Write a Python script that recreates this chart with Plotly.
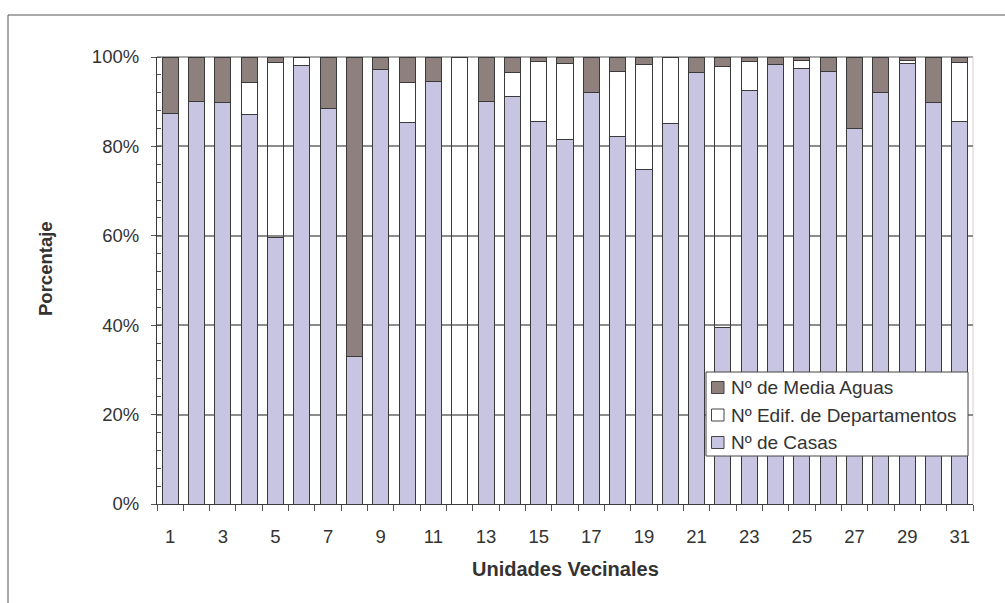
import plotly.graph_objects as go

# Unidades vecinales 1..31 and housing composition (% of each unit)
unidades = [str(i) for i in range(1, 32)]
tick_text = [u if int(u) % 2 == 1 else "" for u in unidades]

casas = [87.4, 90.1, 89.8, 87.1, 59.7, 98.0, 88.5, 32.9, 97.1, 85.4,
         94.5, 0.0, 90.1, 91.2, 85.6, 81.6, 92.0, 82.2, 74.9, 85.1,
         96.6, 39.5, 92.5, 98.3, 97.5, 96.8, 83.9, 92.0, 98.5, 89.8, 85.6]
departamentos = [0.0, 0.0, 0.0, 7.3, 39.0, 2.0, 0.0, 0.0, 0.0, 8.9,
                 0.0, 100.0, 0.0, 5.4, 13.5, 16.9, 0.0, 14.6, 23.4, 14.9,
                 0.0, 58.3, 6.6, 0.0, 1.8, 0.0, 0.0, 0.0, 0.8, 0.0, 13.1]
media_aguas = [12.6, 9.9, 10.2, 5.6, 1.3, 0.0, 11.5, 67.1, 2.9, 5.7,
               5.5, 0.0, 9.9, 3.4, 0.9, 1.5, 8.0, 3.2, 1.7, 0.0,
               3.4, 2.2, 0.9, 1.7, 0.7, 3.2, 16.1, 8.0, 0.7, 10.2, 1.3]

series_names = ["Nº de Casas", "Nº Edif. de Departamentos", "Nº de Media Aguas"]
series_values = [casas, departamentos, media_aguas]
series_fill = ["#C8C5E3", "rgba(255,255,255,0)", "#8E817D"]
legend_fill = ["#C8C5E3", "#FFFFFF", "#8E817D"]

FONT = "Liberation Sans, Arial, sans-serif"
TXT = "#333333"
EDGE = "#3a3a3a"

fig = go.Figure()
for name, vals, col in zip(series_names, series_values, series_fill):
    fig.add_trace(go.Bar(
        x=unidades, y=vals, name=name,
        marker=dict(color=col, line=dict(color=EDGE, width=1)),
        showlegend=False,
    ))

# page geometry (pixels)
W, H = 1005, 603
L, R, T, B = 157, 32, 57, 99
pw, ph = W - L - R, H - T - B


def px(x):
    return (x - L) / pw


def py(y):
    return (H - B - y) / ph


shapes = []
annotations = []

# outer chart frame
shapes.append(dict(type="rect", xref="paper", yref="paper",
                   x0=px(8), y0=py(15), x1=px(1012), y1=py(612),
                   line=dict(color="#555555", width=1), fillcolor="rgba(0,0,0,0)", layer="below"))
# top edge of plot area and faint right edge
shapes.append(dict(type="line", xref="paper", yref="paper", x0=0, x1=1, y0=1, y1=1,
                   line=dict(color="#8c8c8c", width=1.5), layer="below"))
shapes.append(dict(type="line", xref="paper", yref="paper", x0=1, x1=1, y0=0, y1=1,
                   line=dict(color="#d9cccc", width=1), layer="below"))

# legend box drawn over the plot area
lx0, lx1, ly0, ly1 = 706, 968, 372, 456
shapes.append(dict(type="rect", xref="paper", yref="paper",
                   x0=px(lx0), x1=px(lx1), y0=py(ly1), y1=py(ly0),
                   line=dict(color="#444444", width=1), fillcolor="white", layer="above"))
row_y = [387.5, 415, 442.5]
legend_order = [2, 1, 0]
for ry, idx in zip(row_y, legend_order):
    shapes.append(dict(type="rect", xref="paper", yref="paper",
                       x0=px(711.5), x1=px(724), y0=py(ry + 6), y1=py(ry - 6),
                       line=dict(color="#444444", width=1), fillcolor=legend_fill[idx], layer="above"))
    annotations.append(dict(xref="paper", yref="paper", x=px(729), y=py(ry),
                            xanchor="left", yanchor="middle", showarrow=False,
                            text=series_names[idx], font=dict(family=FONT, size=19, color=TXT)))

# axis titles
annotations.append(dict(xref="paper", yref="paper", x=px(565), y=py(569),
                        xanchor="center", yanchor="middle", showarrow=False,
                        text="<b>Unidades Vecinales</b>", font=dict(family=FONT, size=20, color=TXT)))
annotations.append(dict(xref="paper", yref="paper", x=px(45), y=py(268),
                        xanchor="center", yanchor="middle", showarrow=False, textangle=-90,
                        text="<b>Porcentaje</b>", font=dict(family=FONT, size=18.5, color=TXT)))

fig.update_layout(
    width=W, height=H,
    margin=dict(l=L, r=R, t=T, b=B, pad=0),
    barmode="stack", bargap=0.39,
    paper_bgcolor="white", plot_bgcolor="white",
    font=dict(family=FONT, size=18.5, color=TXT),
    shapes=shapes, annotations=annotations,
    showlegend=False,
)
fig.update_xaxes(
    type="category", tickmode="array", tickvals=unidades, ticktext=tick_text,
    tickson="boundaries", ticks="outside", ticklen=6, tickcolor="#555555", tickwidth=1,
    showline=True, linecolor=EDGE, linewidth=1.2, showgrid=False, tickangle=0,
    tickfont=dict(family=FONT, size=18.5, color=TXT), ticklabelstandoff=16,
)
fig.update_yaxes(
    range=[0, 100], tickmode="linear", tick0=0, dtick=20, ticksuffix="%",
    ticks="outside", ticklen=5, tickcolor="#555555", tickwidth=1,
    showline=True, linecolor=EDGE, linewidth=1.2,
    showgrid=True, gridcolor="#8c8c8c", gridwidth=1.5, zeroline=False,
    minor=dict(dtick=4, ticks="inside", ticklen=4, tickcolor="#555555", showgrid=False),
    tickfont=dict(family=FONT, size=18.5, color=TXT), ticklabelstandoff=8,
)

fig.write_html("out.html")
